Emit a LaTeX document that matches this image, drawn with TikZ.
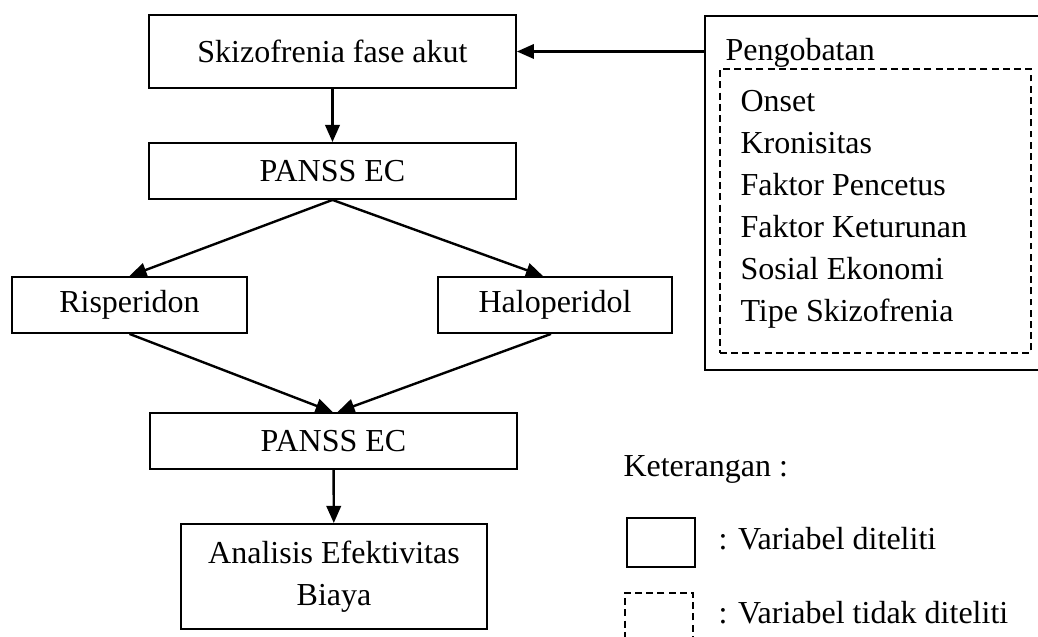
\documentclass[tikz,border=0pt]{standalone}
\usepackage{fontspec}
\setmainfont{Liberation Serif}
\usepackage{tikz}
\usetikzlibrary{arrows.meta}
\usetikzlibrary{positioning}

\begin{document}
\begin{tikzpicture} [x=0.375pt,y=-0.375pt,>={Triangle[length=6.4pt,width=5.4pt]},
  font=\fontsize{12}{15.75}\selectfont,
  kotak/.style={draw,line width=0.7pt,inner sep=0pt,align=center},
  putus/.style={draw,line width=0.7pt,dash pattern=on 2.6pt off 1.6pt,inner sep=0pt},
  teks/.style={inner sep=0pt,align=left}]

  \useasboundingbox (0,0) rectangle (1038,637);

  % alur utama
  \node[kotak,minimum width=137.6pt,minimum height=27.4pt] (skizo) at (332.5,51.5) {Skizofrenia fase akut};
  \node[kotak,minimum width=137.6pt,minimum height=21pt] (pre) at (332.5,171) {PANSS EC};
  \node[kotak,minimum width=88.1pt,minimum height=21pt] (risp) at (129.5,305) {Risperidon};
  \node[kotak,minimum width=87.8pt,minimum height=21pt] (halo) at (555,305) {Haloperidol};
  \node[kotak,minimum width=137.6pt,minimum height=21pt] (post) at (333.5,441) {PANSS EC};
  \node[kotak,minimum width=114.8pt,minimum height=39.4pt] (biaya) at (334,576.5) {Analisis Efektivitas\\Biaya};

  % variabel perancu
  \node[kotak,anchor=north west,minimum width=133.5pt,minimum height=132.8pt] (obat) at (704,15) {};
  \node[teks,anchor=north west] (judul) at (725,38) {Pengobatan};
  \node[putus,anchor=north west,minimum width=116.6pt,minimum height=106.5pt] (faktor) at (719,68) {};
  \node[teks,anchor=north west] (daftar) at (740,90) {Onset\\Kronisitas\\Faktor Pencetus\\Faktor Keturunan\\Sosial Ekonomi\\Tipe Skizofrenia};

  % keterangan
  \node[teks,anchor=base west] (ket) at (623,477) {Keterangan :};
  \node[kotak,anchor=north west,minimum width=25.5pt,minimum height=18.4pt] (diteliti) at (626,517) {};
  \node[teks,anchor=base west] (ket1) at (718,550) {: Variabel diteliti};
  \node[putus,anchor=north west,minimum width=25.5pt,minimum height=18.4pt] (tidak) at (624,592) {};
  \node[teks,anchor=base west] (ket2) at (718,624) {: Variabel tidak diteliti};

  \path[->,line width=0.9pt]
    (skizo) edge (pre)
    (pre.south) edge (risp.north)
    (pre.south) edge ([xshift=-4.5pt]halo.north)
    (risp.south) edge ([xshift=-0.3pt]post.north)
    ([xshift=-1.5pt]halo.south) edge ([xshift=1.5pt]post.north)
    (post) edge (biaya)
    (obat.west |- skizo.east) edge (skizo.east);

\end{tikzpicture}
\end{document}
